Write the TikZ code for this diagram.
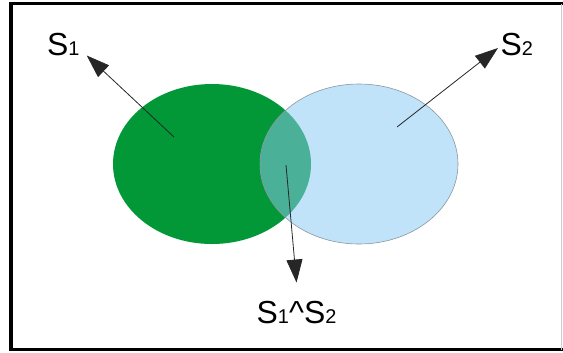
\documentclass[tikz,border=0pt]{standalone}
\usepackage{fontspec}
\setmainfont{Liberation Sans}
\usetikzlibrary{arrows.meta,shapes.geometric}
\definecolor{setgreen}{RGB}{3,152,55}
\definecolor{setblue}{RGB}{192,227,250}
\definecolor{setboth}{RGB}{74,176,152}
\definecolor{setrim}{RGB}{140,150,160}
\newcommand{\lbl}[1]{{\fontsize{32}{32}\selectfont S}{\fontsize{20}{20}\selectfont #1}}
\tikzset{
  setnode/.style={ellipse,minimum width=198bp,minimum height=160bp,inner sep=0pt},
  pointer/.style={-{Triangle[length=23bp,width=16bp]},line width=0.8bp,black!85},
  setlabel/.style={inner sep=0pt,anchor=base west}
}
\begin{document}
\begin{tikzpicture}[x=1bp,y=-1bp]
    \useasboundingbox (0,0) rectangle (563,352);
    % frame
    \draw[line width=3.5bp] (563,3.5) -- (11,3.5) -- (11,349.5) -- (563,349.5);
    \draw[line width=0.6bp,black!20] (561.5,3.5) -- (561.5,349.5);
    % the two sets
    \node[setnode,fill=setgreen] (s1set) at (212,164) {};
    \node[setnode,fill=setblue] (s2set) at (359,164) {};
    \begin{scope}
        \clip (212,164) ellipse [x radius=99bp,y radius=80bp];
        \fill[setboth] (359,164) ellipse [x radius=99bp,y radius=80bp];
    \end{scope}
    \node[setnode,draw=setrim,line width=0.6bp] at (s2set) {};
    % labels
    \node[setlabel] (s1lbl) at (47,55) {\lbl{1}};
    \node[setlabel] (s2lbl) at (500.5,55) {\lbl{2}};
    \node[setlabel] (bothlbl) at (256.5,323) {\lbl{1}{\fontsize{32}{32}\selectfont\textasciicircum}\lbl{2}};
    \coordinate (t1) at (174,137);
    \coordinate (t2) at (397,127);
    \coordinate (t3) at (286,165);
    \draw[pointer] (t1) -- ([shift={(7,0)}]s1lbl.south east);
    \draw[pointer] (t2) -- ([shift={(-2.5,4)}]s2lbl.west);
    \draw[pointer] (t3) -- ([shift={(0,-18)}]bothlbl.north);
\end{tikzpicture}
\end{document}
